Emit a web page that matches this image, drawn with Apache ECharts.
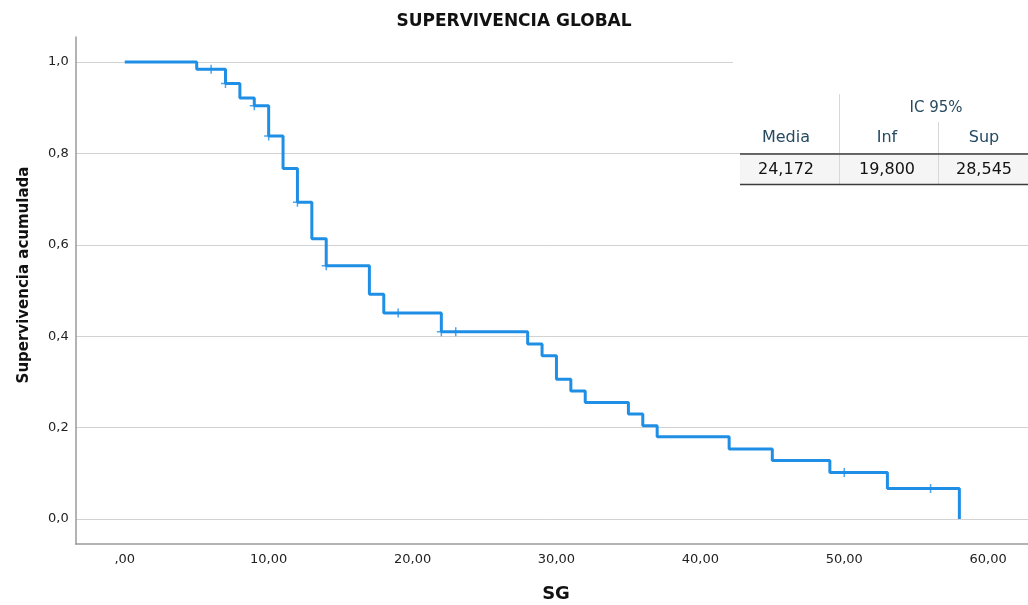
<!DOCTYPE html>
<html><head><meta charset="utf-8">
<script src="https://cdn.jsdelivr.net/npm/echarts@6/dist/echarts.min.js"></script>
<style>html,body{margin:0;padding:0;background:#fff}#c{width:1028px;height:605px}</style>
</head><body><div id="c"></div>
<script>
// Kaplan-Meier steps
const stepTimes = [0,5,7,8,9,10,11,12,13,14,17,18,22,28,29,30,31,32,35,36,37,42,45,49,53,58];
const survival  = [1.0,0.984,0.953,0.921,0.904,0.838,0.767,0.693,0.613,0.554,0.492,0.451,0.410,0.383,0.357,0.306,0.280,0.255,0.230,0.204,0.180,0.153,0.128,0.102,0.067,0.0];
// censored observations
const censorTimes    = [6,7,9,10,12,14,19,22,23,50,56];
const censorSurvival = [0.984,0.953,0.904,0.838,0.693,0.554,0.451,0.410,0.410,0.102,0.067];
// tick labels
const yTicks = [0,0.2,0.4,0.6,0.8,1.0];
const xTicks = [0,10,20,30,40,50,60];
// table
const tableGroup = 'IC 95%';
const tableHeader = ['Media','Inf','Sup'];
const tableValues = ['24,172','19,800','28,545'];

const titleText = 'SUPERVIVENCIA GLOBAL';
const xTitle = 'SG';
const yTitle = 'Supervivencia acumulada';

const FONT = 'DejaVu Sans, Verdana, sans-serif';
const blue = '#1f8fe6';

const isTick = (arr, v) => arr.some(t => Math.abs(t - v) < 1e-6);

const chart = echarts.init(document.getElementById('c'), null, {renderer: 'canvas'});

const colX = [786, 887, 984];
const hdr = '#264a60';

const graphics = [
  {type:'text', left:'center', top:13, style:{text:titleText, font:'bold 17px ' + FONT, fill:'#111'}},
  {type:'text', x:556, y:594, style:{text:xTitle, font:'bold 18px ' + FONT, fill:'#111', align:'center', verticalAlign:'middle'}},
  {type:'text', x:24, y:275, rotation:Math.PI/2, style:{text:yTitle, font:'bold 15px ' + FONT, fill:'#111', align:'center', verticalAlign:'middle'}},
  // table background covering grid line
  {type:'rect', z:5, shape:{x:733, y:38, width:300, height:114}, style:{fill:'#fff'}},
  {type:'rect', z:5, shape:{x:740, y:154, width:290, height:30}, style:{fill:'#f5f5f5'}},
  {type:'line', z:6, shape:{x1:839.5, y1:94, x2:839.5, y2:184}, style:{stroke:'#d8d8d8', lineWidth:1}},
  {type:'line', z:6, shape:{x1:938.5, y1:122, x2:938.5, y2:184}, style:{stroke:'#d8d8d8', lineWidth:1}},
  {type:'line', z:6, shape:{x1:740, y1:154, x2:1028, y2:154}, style:{stroke:'#3c3c3c', lineWidth:1.5}},
  {type:'line', z:6, shape:{x1:740, y1:184.5, x2:1028, y2:184.5}, style:{stroke:'#3c3c3c', lineWidth:1.5}},
  {type:'text', z:7, x:936, y:108, style:{text:tableGroup, font:'15px ' + FONT, fill:hdr, align:'center', verticalAlign:'middle'}}
];
tableHeader.forEach((h, i) => graphics.push({type:'text', z:7, x:colX[i], y:138, style:{text:h, font:'16px ' + FONT, fill:hdr, align:'center', verticalAlign:'middle'}}));
tableValues.forEach((v, i) => graphics.push({type:'text', z:7, x:colX[i], y:170, style:{text:v, font:'16px ' + FONT, fill:'#111', align:'center', verticalAlign:'middle'}}));

chart.setOption({
  animation:false,
  backgroundColor:'#fff',
  grid:{left:75.7, right:0, top:37, bottom:61, containLabel:false},
  xAxis:{
    type:'value', min:-3.41, max:62.77,
    axisLine:{show:true, onZero:false, lineStyle:{color:'#9a9a9a', width:1.5}},
    axisTick:{show:false},
    splitLine:{show:false},
    axisLabel:{show:true, showMinLabel:false, showMaxLabel:false, margin:9, color:'#222', fontFamily:FONT, fontSize:13,
      formatter:v => isTick(xTicks, v) ? (Math.abs(v) < 1e-9 ? ',00' : v.toFixed(2).replace('.', ',')) : ''}
  },
  yAxis:{
    type:'value', min:-0.0547, max:1.0547,
    axisLine:{show:true, onZero:false, lineStyle:{color:'#9a9a9a', width:1.5}},
    axisTick:{show:false},
    splitLine:{show:true, showMinLine:false, showMaxLine:false, lineStyle:{color:'#d2d2d2', width:1}},
    axisLabel:{show:true, showMinLabel:false, showMaxLabel:false, margin:7, color:'#222', fontFamily:FONT, fontSize:13,
      formatter:v => isTick(yTicks, v) ? v.toFixed(1).replace('.', ',') : ''}
  },
  series:[
    {type:'line', step:'end', showSymbol:false, z:3,
      lineStyle:{color:blue, width:3},
      data:stepTimes.map((t, i) => [t, survival[i]])},
    {type:'scatter', z:4, symbol:'path://M3.75,0H5.25V9H3.75Z M0,3.75H9V5.25H0Z', symbolSize:9,
      itemStyle:{color:blue},
      data:censorTimes.map((t, i) => [t, censorSurvival[i]])}
  ],
  graphic:graphics
});
</script></body></html>
